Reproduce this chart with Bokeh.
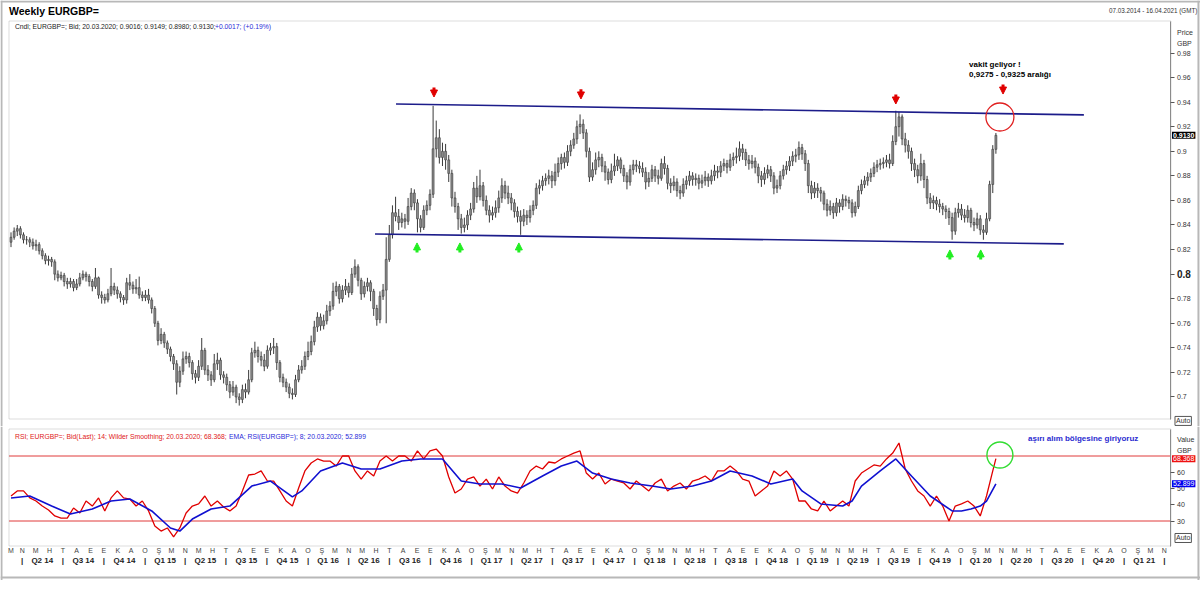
from datetime import date
from bokeh.plotting import figure
from bokeh.layouts import column
from bokeh.models import (ColumnDataSource, Span, Label, Arrow, NormalHead,
                          FixedTicker, LinearAxis, Range1d, BoxAnnotation)
from bokeh.embed import file_html
from bokeh.resources import INLINE

FONT = "Liberation Sans"
start = date(2014, 3, 7)

first_open = 0.826
close = [0.830,0.835,0.837,0.832,0.828,0.828,0.826,0.823,0.824,0.819,
0.815,0.811,0.812,0.810,0.800,0.797,0.799,0.794,0.792,0.794,
0.789,0.792,0.797,0.800,0.798,0.794,0.790,0.797,0.783,0.781,
0.779,0.784,0.790,0.787,0.784,0.781,0.779,0.793,0.791,0.788,
0.789,0.783,0.781,0.783,0.779,0.772,0.760,0.746,0.751,0.744,
0.739,0.733,0.727,0.712,0.721,0.731,0.733,0.728,0.719,0.716,
0.725,0.738,0.722,0.718,0.714,0.727,0.730,0.718,0.716,0.710,
0.704,0.708,0.700,0.698,0.706,0.704,0.714,0.736,0.738,0.733,
0.730,0.725,0.738,0.740,0.741,0.728,0.716,0.712,0.708,0.703,
0.702,0.714,0.722,0.725,0.733,0.737,0.745,0.757,0.765,0.758,
0.762,0.770,0.774,0.786,0.790,0.780,0.787,0.790,0.785,0.800,
0.806,0.795,0.784,0.790,0.793,0.786,0.772,0.763,0.782,0.787,
0.812,0.832,0.850,0.847,0.842,0.845,0.843,0.855,0.866,0.858,
0.845,0.838,0.852,0.856,0.865,0.902,0.911,0.895,0.900,0.893,
0.882,0.862,0.855,0.845,0.838,0.840,0.848,0.853,0.870,0.863,
0.872,0.860,0.852,0.848,0.850,0.854,0.862,0.872,0.866,0.862,
0.858,0.851,0.847,0.843,0.848,0.846,0.852,0.856,0.870,0.872,
0.876,0.878,0.880,0.876,0.883,0.890,0.895,0.891,0.900,0.905,
0.910,0.920,0.922,0.915,0.900,0.879,0.885,0.893,0.895,0.888,
0.883,0.877,0.884,0.888,0.893,0.886,0.880,0.875,0.885,0.889,
0.888,0.886,0.883,0.875,0.878,0.885,0.880,0.878,0.890,0.886,
0.874,0.872,0.875,0.868,0.866,0.873,0.876,0.880,0.877,0.878,
0.874,0.876,0.879,0.876,0.880,0.884,0.883,0.888,0.890,0.887,
0.893,0.895,0.896,0.902,0.899,0.893,0.890,0.892,0.887,0.880,
0.877,0.882,0.885,0.880,0.870,0.872,0.880,0.885,0.888,0.892,
0.896,0.897,0.903,0.898,0.890,0.872,0.866,0.870,0.868,0.866,
0.857,0.852,0.855,0.850,0.858,0.855,0.861,0.860,0.858,0.850,
0.855,0.868,0.873,0.876,0.879,0.882,0.887,0.889,0.890,0.891,
0.893,0.890,0.908,0.920,0.928,0.910,0.905,0.900,0.890,0.885,
0.880,0.890,0.877,0.862,0.858,0.860,0.857,0.855,0.853,0.851,
0.846,0.835,0.850,0.853,0.848,0.846,0.852,0.842,0.840,0.845,
0.836,0.834,0.845,0.873,0.9016,0.9130]

high = [0.834,0.838,0.840,0.839,0.834,0.831,0.830,0.829,0.828,0.826,
0.821,0.817,0.815,0.814,0.812,0.803,0.802,0.801,0.797,0.797,
0.796,0.796,0.801,0.803,0.802,0.800,0.796,0.805,0.798,0.786,
0.784,0.788,0.805,0.793,0.790,0.786,0.783,0.797,0.800,0.794,
0.796,0.798,0.786,0.787,0.788,0.781,0.774,0.762,0.756,0.753,
0.746,0.741,0.735,0.730,0.725,0.737,0.737,0.736,0.730,0.722,
0.730,0.748,0.740,0.726,0.721,0.735,0.736,0.732,0.721,0.719,
0.713,0.713,0.710,0.703,0.710,0.711,0.722,0.740,0.745,0.741,
0.737,0.735,0.742,0.744,0.748,0.744,0.730,0.719,0.715,0.711,
0.707,0.718,0.726,0.730,0.737,0.745,0.750,0.762,0.769,0.768,
0.767,0.775,0.778,0.793,0.794,0.792,0.791,0.796,0.793,0.805,
0.812,0.808,0.797,0.794,0.797,0.795,0.788,0.775,0.786,0.792,
0.830,0.840,0.856,0.863,0.853,0.850,0.849,0.862,0.870,0.869,
0.861,0.848,0.856,0.860,0.869,0.937,0.925,0.918,0.907,0.906,
0.897,0.885,0.867,0.858,0.849,0.846,0.852,0.858,0.875,0.880,
0.885,0.875,0.864,0.856,0.855,0.860,0.868,0.878,0.876,0.872,
0.866,0.861,0.855,0.852,0.853,0.852,0.856,0.860,0.874,0.877,
0.880,0.882,0.885,0.884,0.890,0.895,0.898,0.899,0.905,0.909,
0.915,0.925,0.930,0.926,0.918,0.903,0.891,0.899,0.900,0.898,
0.892,0.886,0.890,0.898,0.896,0.895,0.889,0.883,0.889,0.893,
0.893,0.892,0.891,0.887,0.883,0.889,0.888,0.885,0.894,0.896,
0.889,0.878,0.880,0.878,0.872,0.878,0.880,0.884,0.883,0.882,
0.881,0.881,0.884,0.882,0.885,0.889,0.888,0.892,0.894,0.893,
0.898,0.899,0.903,0.908,0.906,0.902,0.897,0.897,0.895,0.890,
0.884,0.887,0.889,0.888,0.883,0.877,0.884,0.889,0.892,0.896,
0.900,0.902,0.908,0.906,0.901,0.893,0.876,0.875,0.874,0.871,
0.868,0.861,0.860,0.858,0.862,0.861,0.865,0.864,0.863,0.861,
0.859,0.872,0.877,0.880,0.883,0.886,0.891,0.893,0.894,0.895,
0.897,0.898,0.913,0.933,0.932,0.930,0.915,0.909,0.903,0.894,
0.889,0.898,0.893,0.880,0.866,0.864,0.863,0.861,0.858,0.856,
0.854,0.850,0.854,0.858,0.857,0.853,0.856,0.854,0.846,0.850,
0.848,0.840,0.850,0.876,0.905,0.9149]

low = [0.822,0.828,0.831,0.829,0.825,0.824,0.822,0.820,0.819,0.816,
0.812,0.808,0.807,0.806,0.795,0.794,0.795,0.790,0.788,0.789,
0.786,0.787,0.790,0.795,0.794,0.790,0.786,0.788,0.780,0.776,
0.776,0.777,0.782,0.783,0.780,0.777,0.775,0.776,0.787,0.784,
0.784,0.780,0.778,0.778,0.776,0.768,0.757,0.742,0.743,0.740,
0.735,0.729,0.722,0.702,0.708,0.718,0.727,0.724,0.714,0.711,
0.713,0.722,0.718,0.713,0.709,0.712,0.722,0.714,0.711,0.705,
0.699,0.701,0.695,0.693,0.695,0.699,0.702,0.712,0.732,0.728,
0.725,0.721,0.723,0.734,0.735,0.722,0.712,0.708,0.704,0.699,
0.698,0.700,0.712,0.719,0.722,0.730,0.734,0.742,0.753,0.754,
0.755,0.759,0.766,0.771,0.782,0.776,0.777,0.783,0.781,0.783,
0.797,0.790,0.779,0.781,0.786,0.778,0.766,0.758,0.760,0.779,
0.760,0.810,0.829,0.843,0.836,0.838,0.837,0.840,0.852,0.852,
0.834,0.834,0.836,0.848,0.852,0.862,0.895,0.890,0.888,0.885,
0.875,0.855,0.850,0.836,0.833,0.834,0.836,0.844,0.850,0.858,
0.860,0.855,0.848,0.842,0.844,0.846,0.850,0.858,0.861,0.857,
0.852,0.846,0.842,0.832,0.839,0.840,0.842,0.848,0.853,0.865,
0.868,0.872,0.873,0.870,0.872,0.879,0.885,0.886,0.888,0.896,
0.902,0.906,0.914,0.910,0.895,0.875,0.876,0.881,0.887,0.883,
0.876,0.873,0.874,0.880,0.884,0.882,0.875,0.869,0.872,0.881,
0.883,0.882,0.879,0.869,0.871,0.875,0.875,0.873,0.876,0.881,
0.869,0.866,0.868,0.863,0.861,0.863,0.869,0.872,0.872,0.872,
0.869,0.870,0.872,0.871,0.873,0.876,0.878,0.879,0.884,0.882,
0.884,0.888,0.890,0.892,0.893,0.888,0.885,0.886,0.882,0.874,
0.871,0.873,0.878,0.875,0.865,0.866,0.869,0.877,0.881,0.884,
0.888,0.891,0.893,0.893,0.884,0.866,0.861,0.862,0.862,0.859,
0.852,0.847,0.848,0.845,0.847,0.850,0.852,0.855,0.853,0.846,
0.847,0.853,0.865,0.870,0.872,0.875,0.879,0.883,0.885,0.886,
0.887,0.886,0.888,0.905,0.912,0.905,0.899,0.894,0.884,0.879,
0.874,0.876,0.870,0.857,0.853,0.853,0.852,0.850,0.848,0.845,
0.840,0.828,0.832,0.846,0.844,0.842,0.842,0.838,0.835,0.837,
0.832,0.828,0.832,0.843,0.866,0.8980]

# RSI(14, Wilder) read every second week (weeks 0,2,...,314) plus the last week
rsi_read = [45.4,48.5,48.5,44.2,42.3,39.2,36.8,33.1,31.8,31.8,
38.0,34.9,42.3,39.2,44.2,36.2,44.2,48.5,44.2,43.5,
39.2,42.3,36.2,26.9,23.8,25.7,20.2,25.7,34.9,39.2,
40.5,45.4,39.2,42.3,38.6,36.2,39.2,48.5,58.3,58.9,
60.8,54.6,54.6,48.5,42.3,39.2,50.3,60.8,65.7,68.2,
66.9,66.9,63.8,70.0,70.0,60.8,55.8,60.8,57.7,66.9,
70.0,66.9,70.0,70.0,66.9,73.1,68.2,73.1,74.3,70.0,
57.1,47.2,49.7,55.8,57.1,51.5,55.8,49.7,57.1,51.5,
48.5,47.2,53.4,60.8,63.8,62.0,66.3,65.7,68.2,70.0,
71.8,73.1,59.5,55.8,59.5,52.8,55.8,54.6,53.4,49.7,
54.6,51.5,48.5,53.4,55.8,48.5,51.5,53.4,49.7,54.6,
55.8,57.7,54.6,60.8,60.8,63.8,60.8,55.8,54.6,45.4,
48.5,51.5,60.8,57.7,60.8,55.8,42.3,42.3,37.4,36.2,
42.3,36.2,39.2,42.3,39.2,54.6,59.5,62.0,64.5,63.8,
68.2,71.8,78.0,62.0,54.6,48.5,45.4,39.2,45.4,39.2,
30.0,39.2,40.5,42.3,39.2,33.1,45.4,60.8,68.368]

# EMA(8) of RSI, read at these week numbers
ema_weeks = [0,6,13,19,26,32,38,45,51,54,58,64,70,77,83,90,93,99,106,112,
118,125,131,138,144,150,157,163,170,176,181,186,192,198,205,211,218,224,230,237,
243,250,253,259,266,269,272,278,283,288,294,301,304,307,310,312,315]
ema_read = [44.2,45.4,39.2,34.3,37.4,42.3,43.5,36.2,25.7,23.8,31.2,37.4,39.2,51.5,54.6,44.8,48.5,60.8,65.7,62.0,
62.0,66.9,68.2,68.2,54.6,52.8,52.8,50.3,57.7,63.8,66.9,59.5,55.8,53.4,51.5,49.7,51.5,54.6,60.8,57.7,
52.8,55.8,48.5,40.5,39.2,42.3,51.5,60.8,68.2,57.7,45.4,36.2,36.2,37.4,39.2,42.3,52.899]

month_letters = ["O", "Ş", "M", "N", "M", "H", "T", "A", "E", "E", "K", "A"]
price_ticks = [0.70, 0.72, 0.74, 0.76, 0.78, 0.80, 0.82, 0.84, 0.86, 0.88, 0.90, 0.92, 0.94, 0.96, 0.98]
price_labels = ["0.7", "0.72", "0.74", "0.76", "0.78", "", "0.82", "0.84", "0.86", "0.88", "0.9", "0.92", "0.94", "0.96", "0.98"]
rsi_ticks = [30, 40, 50, 60]
rsi_levels = [70, 30]

upper_x = [date(2016, 7, 16), date(2020, 10, 3)]
upper_y = [0.9385, 0.9296]
lower_x = [date(2016, 5, 30), date(2020, 8, 19)]
lower_y = [0.8327, 0.8246]
red_arrow_dates = [date(2016, 10, 9), date(2017, 9, 3), date(2019, 8, 9), date(2020, 4, 5)]
red_arrow_tip = [0.9442, 0.9426, 0.9385, 0.9466]
green_arrow_dates = [date(2016, 9, 1), date(2016, 12, 6), date(2017, 4, 17), date(2019, 12, 8), date(2020, 2, 15)]
green_arrow_tip = [0.8254, 0.8254, 0.8254, 0.8197, 0.8197]
circle_date = date(2020, 3, 29)


def d(dt):
    return (dt - start).days


n = len(close)
opn = [first_open] + close[:-1]
xs = [7 * i for i in range(n)]
src = ColumnDataSource(dict(x=xs, open=opn, close=close, high=high, low=low))
rsi_src = ColumnDataSource(dict(x=xs[::2] + [xs[-1]], rsi=rsi_read))
ema_src = ColumnDataSource(dict(x=[7 * w for w in ema_weeks], ema=ema_read))

W = 1200
X0, X1 = -4.5, 2597            # panel left / right (data days)
XR = Range1d(-23.52, 2663.08)  # whole canvas width
OUTER_L, OUTER_R = -21.3, 2658.5

P_TOP, P_BOT = 1.00605, 0.68207
R_TOP, R_BOT = 86.615, 14.615
BORDER = "#8c8c8c"
OUTER = "#b8b8b8"


def lab(fig, x, y, text, size="7px", color="#000000", bold=False, align="left",
        xo=0, bg=None, border=None, pad=0):
    fig.add_layout(Label(x=x, y=y, text=text, text_font=FONT, text_font_size=size,
                         text_color=color, text_font_style="bold" if bold else "normal",
                         text_align=align, text_baseline="middle", x_offset=xo,
                         background_fill_color=bg, border_line_color=border, padding=pad))


def style_axis(a, size="7px", color="#333333"):
    a.minor_tick_line_color = None
    a.major_label_text_font = FONT
    a.major_label_text_font_size = size
    a.major_label_text_color = color


# ---------------- price panel ----------------
p1 = figure(width=W, height=426, x_range=XR, y_range=Range1d(0.67597, 1.02274),
            output_backend="svg", toolbar_location=None, title=None,
            x_axis_location=None, y_axis_location=None,
            min_border_left=0, min_border_right=0, min_border_top=0, min_border_bottom=0)
p1.grid.visible = False
p1.outline_line_color = None

ax = LinearAxis(fixed_location=X1, ticker=FixedTicker(ticks=price_ticks),
                major_label_overrides={t: l for t, l in zip(price_ticks, price_labels)},
                bounds=(P_BOT, P_TOP))
ax.axis_line_color = BORDER
ax.major_tick_out = 4
ax.major_tick_in = 0
ax.major_tick_line_color = "#555555"
ax.major_label_standoff = 2
style_axis(ax)
p1.add_layout(ax, "right")

p1.add_layout(BoxAnnotation(left=X0, right=X1, bottom=P_BOT, top=P_TOP, fill_alpha=0,
                            fill_color=None, line_color=BORDER, line_width=1))
for xo_ in (OUTER_L, OUTER_R):
    p1.add_layout(Span(location=xo_, dimension="height", line_color=OUTER, line_width=2))
p1.add_layout(Span(location=1.0219, dimension="width", line_color=OUTER, line_width=2))

p1.segment(x0="x", y0="low", x1="x", y1="high", source=src, line_color="#3a3a3a", line_width=1)
p1.vbar(x="x", width=4.4, top="open", bottom="close", source=src,
        fill_color="#8c8c8c", line_color="#3a3a3a", line_width=0.6)

p1.line([d(t) for t in upper_x], upper_y, line_color="#1c1c8a", line_width=1.6)
p1.line([d(t) for t in lower_x], lower_y, line_color="#1c1c8a", line_width=1.6)

ra = ColumnDataSource(dict(x=[d(t) for t in red_arrow_dates],
                           y0=[v + 0.0078 for v in red_arrow_tip], y1=red_arrow_tip))
p1.add_layout(Arrow(end=NormalHead(size=7, fill_color="#e00000", line_color="#e00000", line_width=1),
                    x_start="x", y_start="y0", x_end="x", y_end="y1", source=ra,
                    line_color="#e00000", line_width=3))
ga = ColumnDataSource(dict(x=[d(t) for t in green_arrow_dates],
                           y0=[v - 0.0078 for v in green_arrow_tip], y1=green_arrow_tip))
p1.add_layout(Arrow(end=NormalHead(size=7, fill_color="#22ee22", line_color="#22ee22", line_width=1),
                    x_start="x", y_start="y0", x_end="x", y_end="y1", source=ga,
                    line_color="#22ee22", line_width=3))

p1.scatter([d(circle_date)], [0.9279], marker="circle", size=28,
           fill_color=None, line_color="#e02020", line_width=1.3)

lab(p1, d(date(2020, 1, 20)), 0.971, "vakit geliyor !", size="8px", bold=True)
lab(p1, d(date(2020, 1, 20)), 0.9625, "0,9275 - 0,9325 aralığı", size="8px", bold=True)

lab(p1, X0, 1.0142, "Weekly EURGBP=", size="10.5px", bold=True)
lab(p1, OUTER_R, 1.0142, "07.03.2014 - 16.04.2021 (GMT)", size="6.3px", color="#333333", align="right", xo=-1)
lab(p1, 8.9, 1.0015, "Cndl; EURGBP=; Bid; 20.03.2020; 0.9016; 0.9149; 0.8980; 0.9130; ", size="6.75px", color="#222222")
lab(p1, 456.7, 1.0015, "+0.0017; (+0.19%)", size="6.75px", color="#2a2ad8")
lab(p1, X1, 0.9963, "Price", size="7px", color="#333333", xo=6)
lab(p1, X1, 0.9881, "GBP", size="7px", color="#333333", xo=6)
lab(p1, X1, 0.80, "0.8", size="10px", color="#222222", bold=True, xo=6)
lab(p1, X1, 0.913, "0.9130", size="7px", color="white", bold=True, xo=1, bg="black", pad=1)
lab(p1, X1, 0.6805, "Auto", size="7px", color="#333333", xo=4, border="#555555", pad=1)

# ---------------- RSI panel ----------------
p2 = figure(width=W, height=154, x_range=XR, y_range=Range1d(-6.615, 88.154),
            output_backend="svg", toolbar_location=None, title=None,
            x_axis_location=None, y_axis_location=None,
            min_border_left=0, min_border_right=0, min_border_top=0, min_border_bottom=0)
p2.grid.visible = False
p2.outline_line_color = None

ay = LinearAxis(fixed_location=X1, ticker=FixedTicker(ticks=rsi_ticks), bounds=(R_BOT, R_TOP))
ay.axis_line_color = BORDER
ay.major_tick_out = 4
ay.major_tick_in = 0
ay.major_tick_line_color = "#555555"
ay.major_label_standoff = 2
style_axis(ay)
p2.add_layout(ay, "right")

p2.add_layout(BoxAnnotation(left=X0, right=X1, bottom=R_BOT, top=R_TOP, fill_alpha=0,
                            fill_color=None, line_color=BORDER, line_width=1))
for xo_ in (OUTER_L, OUTER_R):
    p2.add_layout(Span(location=xo_, dimension="height", line_color=OUTER, line_width=2))
p2.add_layout(Span(location=-4.8, dimension="width", line_color=OUTER, line_width=2))

p2.segment(x0=[X0] * 2, x1=[X1] * 2, y0=rsi_levels, y1=rsi_levels, line_color="#e03a3a", line_width=1)
p2.line("x", "rsi", source=rsi_src, line_color="#e00000", line_width=1.3)
p2.line("x", "ema", source=ema_src, line_color="#1010d0", line_width=1.6)
p2.scatter([d(circle_date)], [70.6], marker="circle", size=26,
           fill_color=None, line_color="#33dd33", line_width=1.4)

lab(p2, 8.9, 82.3, "RSI; EURGBP=; Bid(Last);  14; Wilder Smoothing; 20.03.2020; 68.368; ", size="6.8px", color="#e02020")
lab(p2, 488, 82.3, "EMA; RSI(EURGBP=);  8; 20.03.2020; 52.899", size="6.8px", color="#2a2ad8")
lab(p2, d(date(2020, 5, 31)), 81.0, "aşırı alım bölgesine giriyoruz", size="8px", color="#2b2bd0", bold=True)
lab(p2, X1, 80.46, "Value", size="7px", color="#333333", xo=6)
lab(p2, X1, 73.69, "GBP", size="7px", color="#333333", xo=6)
lab(p2, X1, 68.368, "68.368", size="7px", color="white", xo=1, bg="#ee1111", pad=1)
lab(p2, X1, 52.899, "52.899", size="7px", color="white", xo=1, bg="#0000ee", pad=1)
lab(p2, X1, 19.54, "Auto", size="7px", color="#333333", xo=4, border="#555555", pad=1)

# month letters axis
mt, ml = [0], {0: "M"}
for y in range(2014, 2022):
    for m in range(1, 13):
        dd = d(date(y, m, 1))
        if 0 < dd <= X1:
            mt.append(dd)
            ml[dd] = month_letters[m - 1]
xa = LinearAxis(fixed_location=R_BOT, ticker=FixedTicker(ticks=mt), major_label_overrides=ml)
xa.axis_line_color = None
xa.major_tick_line_color = None
xa.major_tick_out = 0
xa.major_tick_in = 0
xa.major_label_standoff = 1
style_axis(xa, "7px", "#444444")
p2.add_layout(xa, "below")

# quarter axis
qstarts = [date(y, m, 1) for y in range(2014, 2022) for m in (1, 4, 7, 10)]
qt, ql = [], {}
for a, b in zip(qstarts[:-1], qstarts[1:]):
    da, db = d(a), d(b)
    if 0 <= da <= X1:
        qt.append(da)
        ql[da] = "|"
        mid = (da + db) // 2
        if mid < X1:
            qt.append(mid)
            ql[mid] = "Q%d %02d" % ((a.month - 1) // 3 + 1, a.year % 100)
qa = LinearAxis(fixed_location=8.77, ticker=FixedTicker(ticks=qt), major_label_overrides=ql)
qa.axis_line_color = None
qa.major_tick_line_color = None
qa.major_tick_out = 0
qa.major_tick_in = 0
qa.major_label_standoff = 1
style_axis(qa, "8px", "#222222")
qa.major_label_text_font_style = "bold"
p2.add_layout(qa, "below")

layout = column(p1, p2, spacing=0)
open("out.html", "w").write(file_html(layout, INLINE))
